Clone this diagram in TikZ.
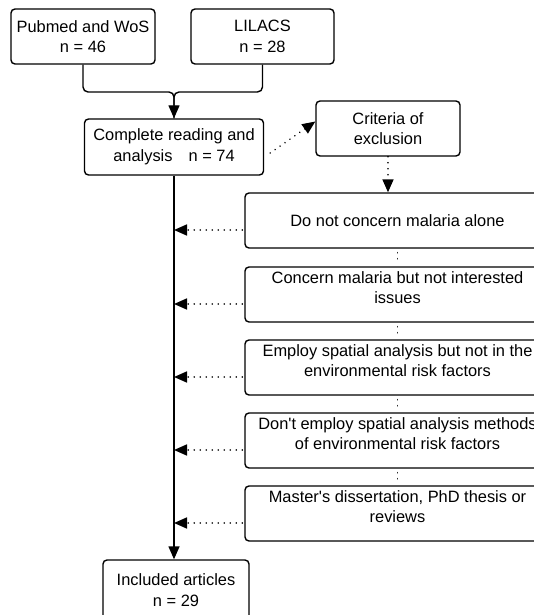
\documentclass[tikz,border=0pt]{standalone}
\usepackage{fontspec}
\setmainfont{Liberation Sans}
\usetikzlibrary{arrows.meta}
\begin{document}
\begin{tikzpicture}[x=1pt,y=-1pt,
  box/.style={draw, line width=1.4pt, rounded corners=4pt, fill=white, align=center,
    inner sep=0pt, font=\fontsize{16.4pt}{20.5pt}\selectfont},
  flow/.style={line width=1.4pt, rounded corners=5pt},
  flowarrow/.style={flow, -{Triangle[length=13pt,width=11pt]}},
  dotline/.style={line width=1.7pt, dash pattern=on 0.01pt off 6pt, line cap=round},
  dotarrow/.style={dotline, -{Triangle[length=13pt,width=11pt]}}
]
\useasboundingbox (0,0) rectangle (534,615);
\clip (0,0) rectangle (534,615);

\node[box, minimum width=144pt, minimum height=55pt] (A) at (83,36.5) {Pubmed and WoS\\n = 46};
\node[box, minimum width=143pt, minimum height=55pt] (B) at (262.5,36.5) {LILACS\\n = 28};
\node[box, minimum width=179pt, minimum height=56pt] (C) at (174,147) {Complete reading and\\analysis\hspace{16pt}n = 74};
\node[box, minimum width=144pt, minimum height=55pt] (D) at (388,128.5) {Criteria of\\exclusion};

\node[box, minimum width=305pt, minimum height=55pt] (E) at (397.5,220.5) {Do not concern malaria alone};
\node[box, minimum width=305pt, minimum height=55pt] (F) at (397.5,294.5) {Concern malaria but not interested\\issues\\[-13pt]\strut};
\node[box, minimum width=305pt, minimum height=55pt] (G) at (397.5,367.5) {Employ spatial analysis but not in the\\environmental risk factors\\[-13pt]\strut};
\node[box, minimum width=305pt, minimum height=55pt] (H) at (397.5,440.5) {Don\textquotesingle t employ spatial analysis methods\\of environmental risk factors\\[-13pt]\strut};
\node[box, minimum width=305pt, minimum height=55pt] (I) at (397.5,513.5) {Master\textquotesingle s dissertation, PhD thesis or\\reviews\\[-13pt]\strut};

\node[box, minimum width=146pt, minimum height=60pt] (J) at (176,590) {Included articles\\n = 29};

% merge of sources
\coordinate (j) at (174,92);
\draw[flow] (B.south) |- (j) -- (C.north);
\draw[flowarrow] (A.south) |- (j) -- (C.north);

% main line
\draw[flowarrow] (C.south) -- (C.south |- J.north);

% to exclusion criteria
\draw[dotarrow] ([shift={(6,6)}]C.east) -- ([yshift=7pt]D.west);
\draw[dotarrow] (D.south) -- (D.south |- E.north);

% chain of criteria
\draw[dotline] ([yshift=-4pt]E.south) -- ([yshift=4pt]F.north);
\draw[dotline] ([yshift=-4pt]F.south) -- ([yshift=4pt]G.north);
\draw[dotline] ([yshift=-4pt]G.south) -- ([yshift=4pt]H.north);
\draw[dotline] ([yshift=-4pt]H.south) -- ([yshift=4pt]I.north);

% back to main line
\foreach \n in {E,F,G,H,I}{
  \coordinate (s\n) at ([yshift=-9.5pt]\n.west);
  \draw[dotarrow] ([xshift=-2pt]s\n) -- (C.south |- s\n);
}
\end{tikzpicture}
\end{document}
